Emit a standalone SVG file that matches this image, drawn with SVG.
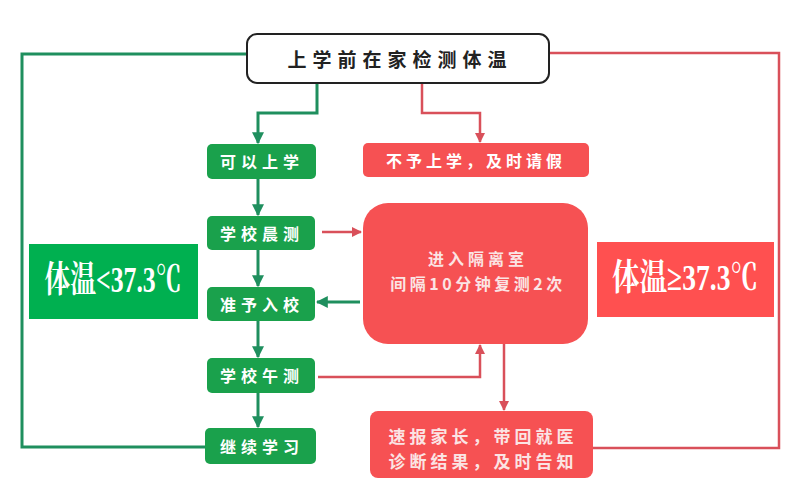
<svg xmlns="http://www.w3.org/2000/svg" width="803" height="501" viewBox="0 0 803 501">
<defs>
<style>
.g{fill:#1aa14c}
.r{fill:#f65153}
.t{font-family:"Noto Sans CJK SC","Noto Sans",sans-serif;font-weight:bold;fill:#ffffff;text-anchor:middle;dominant-baseline:central}
.tp{fill:#fbe4e4}
.cg{fill:none;stroke:#1f8f5e;stroke-width:3}
.cr{fill:none;stroke:#d9505a;stroke-width:2.5}
.lbl{font-family:"Liberation Serif","Noto Serif CJK SC","Noto Sans CJK SC",serif;font-weight:bold;fill:#ffffff;text-anchor:middle;dominant-baseline:central;font-size:36px}
</style>
<marker id="ag" viewBox="0 0 10 10" refX="9" refY="5" markerWidth="4" markerHeight="4" orient="auto" markerUnits="strokeWidth"><path d="M0,0 L10,5 L0,10 z" fill="#1f8f5e"/></marker>
<marker id="ar" viewBox="0 0 10 10" refX="9" refY="5" markerWidth="4" markerHeight="4" orient="auto" markerUnits="strokeWidth"><path d="M0,0 L10,5 L0,10 z" fill="#d9505a"/></marker>
</defs>
<rect width="803" height="501" fill="#ffffff"/>
<g id="connectors">
<polyline class="cg" points="247,54 22,54 22,447 205,447"/>
<polyline class="cg" points="317,83 317,113 258,113 258,143" marker-end="url(#ag)"/>
<line class="cg" x1="258" y1="179" x2="258" y2="215" marker-end="url(#ag)"/>
<line class="cg" x1="258" y1="250" x2="258" y2="286" marker-end="url(#ag)"/>
<line class="cg" x1="258" y1="321" x2="258" y2="357" marker-end="url(#ag)"/>
<line class="cg" x1="258" y1="393" x2="258" y2="427" marker-end="url(#ag)"/>
<line class="cg" x1="360" y1="302" x2="317" y2="302" marker-end="url(#ag)"/>
<polyline class="cr" points="549,53 779,53 779,448 593,448"/>
<polyline class="cr" points="422,83 422,113 480,113 480,142" marker-end="url(#ar)"/>
<line class="cr" x1="322" y1="232" x2="361" y2="232" marker-end="url(#ar)"/>
<polyline class="cr" points="318,377 480,377 480,345" marker-end="url(#ar)"/>
<line class="cr" x1="504" y1="344" x2="504" y2="410" marker-end="url(#ar)"/>
</g>
<g id="start">
<rect x="247" y="34" width="302" height="49" rx="10" fill="#ffffff" stroke="#222222" stroke-width="2"/>
<text class="t" x="400" y="58" style="fill:#222222;font-size:19px;letter-spacing:6px">上学前在家检测体温</text>
</g>
<g id="n_ok">
<rect class="g" x="207" y="144" width="109" height="35" rx="5"/>
<text class="t" x="262" y="161" style="font-size:16px;letter-spacing:5px">可以上学</text>
</g>
<g id="n_no">
<rect class="r" x="363" y="143" width="226" height="34" rx="5"/>
<text class="t" x="476" y="160" style="font-size:16px;letter-spacing:4px">不予上学，及时请假</text>
</g>
<g id="n_morning">
<rect class="g" x="207" y="216" width="108" height="34" rx="5"/>
<text class="t" x="262" y="233" style="font-size:16px;letter-spacing:5px">学校晨测</text>
</g>
<g id="n_enter">
<rect class="g" x="207" y="287" width="108" height="34" rx="5"/>
<text class="t" x="262" y="304" style="font-size:16px;letter-spacing:5px">准予入校</text>
</g>
<g id="n_noon">
<rect class="g" x="207" y="358" width="108" height="35" rx="5"/>
<text class="t" x="262" y="375" style="font-size:16px;letter-spacing:5px">学校午测</text>
</g>
<g id="n_continue">
<rect class="g" x="205" y="428" width="111" height="36" rx="5"/>
<text class="t" x="262" y="446" style="font-size:16px;letter-spacing:5px">继续学习</text>
</g>
<g id="n_isolate">
<rect class="r" x="363" y="203" width="225" height="141" rx="25"/>
<text class="t tp" x="478" y="258" style="font-size:16px;letter-spacing:4px">进入隔离室</text>
<text class="t tp" x="478" y="283" style="font-size:16px;letter-spacing:3.5px">间隔10分钟复测2次</text>
</g>
<g id="n_report">
<rect class="r" x="370" y="411" width="223" height="67" rx="8"/>
<text class="t tp" x="483" y="435" style="font-size:17px;letter-spacing:4px">速报家长，带回就医</text>
<text class="t tp" x="483" y="460" style="font-size:17px;letter-spacing:4px">诊断结果，及时告知</text>
</g>
<g id="label_low">
<rect x="29" y="244" width="169" height="75" fill="#00b050"/>
<text class="lbl" x="113" y="280" textLength="137" lengthAdjust="spacingAndGlyphs">体温&lt;37.3℃</text>
</g>
<g id="label_high">
<rect x="597" y="242" width="177" height="75" fill="#ff5050"/>
<text class="lbl" x="685" y="278" textLength="146" lengthAdjust="spacingAndGlyphs">体温≥37.3℃</text>
</g>
</svg>
